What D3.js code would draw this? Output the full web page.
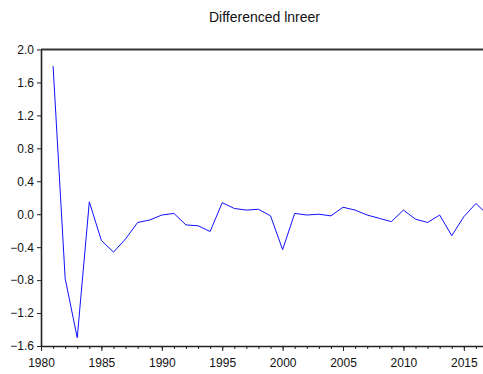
<!DOCTYPE html>
<html>
<head>
<meta charset="utf-8">
<script src="https://cdn.jsdelivr.net/npm/d3@7"></script>
<style>
body { margin: 0; background: #fff; }
text { font-family: "Liberation Sans", Arial, sans-serif; fill: #111; }
</style>
</head>
<body>
<script>
// differenced lnreer, one value per year
let years = d3.range(1981, 2018);
let values = [1.80, -0.78, -1.50, 0.15, -0.32, -0.46, -0.30, -0.10, -0.07, -0.01,
	0.01, -0.13, -0.14, -0.21, 0.14, 0.07, 0.05, 0.06, -0.02, -0.43,
	0.01, -0.01, 0.00, -0.02, 0.085, 0.05, -0.01, -0.05, -0.09, 0.05,
	-0.06, -0.10, -0.01, -0.26, -0.03, 0.13, -0.01];
let yTicks = [-1.6, -1.2, -0.8, -0.4, 0.0, 0.4, 0.8, 1.2, 1.6, 2.0];
let xTicks = [1980, 1985, 1990, 1995, 2000, 2005, 2010, 2015];

let frame = { width: 483, height: 374 };
let padding = { left: 41, top: 49.5, right: -5, bottom: 28 };

let svg = d3.select('body')
	.append('svg')
	.attr('width', frame.width)
	.attr('height', frame.height);

let xScale = d3.scaleLinear()
	.domain([1980, 2017])
	.range([padding.left, frame.width - padding.right]);

let yScale = d3.scaleLinear()
	.domain([-1.6, 2.0])
	.range([frame.height - padding.bottom, padding.top]);

// title
svg.append('text')
	.attr('x', (padding.left + frame.width - padding.right) / 2)
	.attr('y', 22)
	.attr('text-anchor', 'middle')
	.style('font-size', '14px')
	.text('Differenced lnreer');

// minor year ticks
svg.append('g')
	.attr('transform', `translate(0, ${yScale(-1.6)})`)
	.call(d3.axisBottom(xScale).tickValues(d3.range(1980, 2018)).tickSize(3).tickFormat(''))
	.call(g => g.select('.domain').remove())
	.selectAll('line').attr('stroke', '#222');

let xAxis = svg.append('g')
	.attr('transform', `translate(0, ${yScale(-1.6)})`)
	.call(d3.axisBottom(xScale).tickValues(xTicks).tickSize(5).tickSizeOuter(0).tickFormat(d3.format('d')));

let yAxis = svg.append('g')
	.attr('transform', `translate(${padding.left}, 0)`)
	.call(d3.axisLeft(yScale).tickValues(yTicks).tickSize(4).tickSizeOuter(0).tickFormat(d3.format('.1f')));

[xAxis, yAxis].forEach(g => {
	g.select('.domain').attr('stroke', '#222').attr('stroke-width', 1.6);
	g.selectAll('.tick line').attr('stroke', '#222');
	g.selectAll('.tick text').style('font-size', '12px').attr('fill', '#111')
		.style('font-family', '"Liberation Sans", Arial, sans-serif');
});
xAxis.selectAll('.tick text').attr('y', 21).attr('dy', null);

// top border
svg.append('line')
	.attr('x1', padding.left)
	.attr('x2', frame.width - padding.right)
	.attr('y1', yScale(2.0))
	.attr('y2', yScale(2.0))
	.attr('stroke', '#333')
	.attr('stroke-width', 2);

let line = d3.line()
	.x((d, i) => xScale(years[i]))
	.y(d => yScale(d));

svg.append('path')
	.datum(values)
	.attr('fill', 'none')
	.attr('stroke', '#1010ff')
	.attr('stroke-width', 1)
	.attr('d', line);
</script>
</body>
</html>
